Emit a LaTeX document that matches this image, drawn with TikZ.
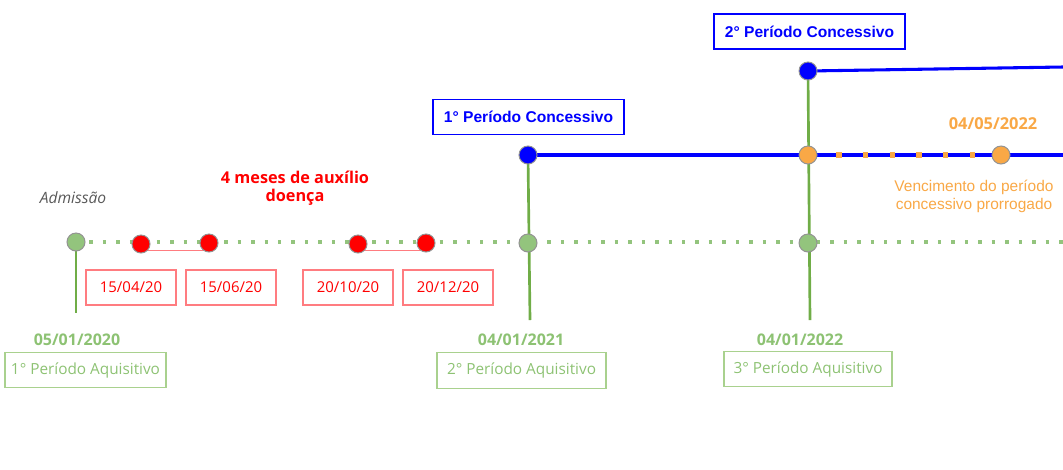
\documentclass[tikz,border=0pt]{standalone}
\usepackage{fontspec}
\setmainfont{Open Sans}
\newfontfamily\arial{Liberation Sans}
\usetikzlibrary{backgrounds,calc}
\definecolor{gfill}{HTML}{93C47D}
\definecolor{gline}{HTML}{70AD47}
\definecolor{gtext}{HTML}{8DC273}
\definecolor{gborder}{HTML}{A9D18E}
\definecolor{rborder}{HTML}{FF7C80}
\definecolor{orng}{HTML}{F9A846}
\definecolor{gray1}{HTML}{595959}
\begin{document}
\begin{tikzpicture}[x=0.75pt,y=-0.75pt,
  dot/.style={circle,draw=gray!85,line width=0.75pt,minimum size=13.5pt,inner sep=0pt},
  gdot/.style={dot,fill=gfill},
  rdot/.style={dot,fill=red},
  bdot/.style={dot,fill=blue},
  odot/.style={dot,fill=orng},
  redbox/.style={draw=rborder,line width=0.9pt,text=red,font=\fontsize{11.2}{13}\selectfont,minimum width=67.5pt,minimum height=26.25pt,inner sep=0pt},
  greenbox/.style={draw=gborder,line width=0.9pt,text=gtext,font=\fontsize{11.5}{13}\selectfont,minimum height=26.5pt,inner sep=0pt},
  bluebox/.style={draw=blue,line width=1.1pt,text=blue,font=\arial\bfseries\fontsize{11.7}{13}\selectfont,minimum width=143pt,minimum height=26.5pt,inner sep=0pt},
  gdate/.style={text=gtext,font=\bfseries\fontsize{12}{14}\selectfont,inner sep=0pt},
  gvline/.style={draw=gline,line width=2pt},
  bline/.style={draw=blue,line width=2.3pt},
  gdotted/.style={draw=gfill,line width=2.6pt,dash pattern=on 2.6pt off 7.5pt},
  odotted/.style={draw=orng,line width=4pt,dash pattern=on 4pt off 16pt,dash phase=6pt},
  rline/.style={draw=rborder,line width=1pt}
]
\useasboundingbox (0,0) rectangle (1063,469);

% coordinates
\coordinate (gend) at (1063,242);
\coordinate (b1end) at (1063,155);
\coordinate (b2end) at (1063,67);
\coordinate (v1end) at (76,313);
\coordinate (v2end) at (530,320);
\coordinate (v3end) at (810,320);

% nodes on the timeline
\node[gdot] (adm) at (76,242) {};
\node[rdot] (r1) at (141,244) {};
\node[rdot] (r2) at (209,243) {};
\node[rdot] (r3) at (358,244) {};
\node[rdot] (r4) at (426,243) {};
\node[gdot] (g2) at (528,243) {};
\node[gdot] (g3) at (808,243) {};
\node[bdot] (b1) at (528,155) {};
\node[bdot] (b2) at (808,71) {};
\node[odot] (o1) at (808,155) {};
\node[odot] (o2) at (1001,155) {};

% texts
\node[text=gray1,font=\itshape\fontsize{11.7}{13}\selectfont] (admt) at (73,198) {Admissão};
\node[text=red,font=\bfseries\fontsize{12.2}{13.2}\selectfont,align=center] (aux) at (295,188) {4 meses de auxílio\\doença};

\node[redbox] (d1) at (131,287.5) {15/04/20};
\node[redbox] (d2) at (231,287.5) {15/06/20};
\node[redbox] (d3) at (348,287.5) {20/10/20};
\node[redbox] (d4) at (448,287.5) {20/12/20};

\node[gdate] (gd1) at (77,340) {05/01/2020};
\node[gdate] (gd2) at (521,340) {04/01/2021};
\node[gdate] (gd3) at (800,340) {04/01/2022};
\node[greenbox,minimum width=120.75pt] (pa1) at (85.5,370) {1° Período Aquisitivo};
\node[greenbox,minimum width=126.75pt] (pa2) at (521.5,370.5) {2° Período Aquisitivo};
\node[greenbox,minimum width=126pt] (pa3) at (808,369) {3° Período Aquisitivo};

\node[bluebox] (pc1) at (528.5,117) {1° Período Concessivo};
\node[bluebox] (pc2) at (809.5,31.5) {2° Período Concessivo};

\node[text=orng,font=\bfseries\fontsize{12.3}{14}\selectfont] (od) at (993,124) {04/05/2022};
\node[text=orng,font=\arial\fontsize{11.6}{13.5}\selectfont,align=center] (ot) at (974,196) {Vencimento do período\\concessivo prorrogado};

\begin{pgfonlayer}{background}
  \draw[gdotted] (adm.center) -- (gend);
  \draw[rline] ($(r1.center)+(0,6.5)$) -- ($(r2.center)+(0,7.5)$);
  \draw[rline] ($(r3.center)+(0,6.5)$) -- ($(r4.center)+(0,7.5)$);
  \draw[gvline] (adm.center) -- (v1end);
  \draw[gvline] (b1.center) -- (v2end);
  \draw[gvline] (b2.center) -- (v3end);
  \draw[bline] (b1.center) -- (b1end);
  \draw[bline] (b2.center) -- (b2end);
  \draw[odotted] (o1.east) -- (o2.west);
\end{pgfonlayer}
\end{tikzpicture}
\end{document}
